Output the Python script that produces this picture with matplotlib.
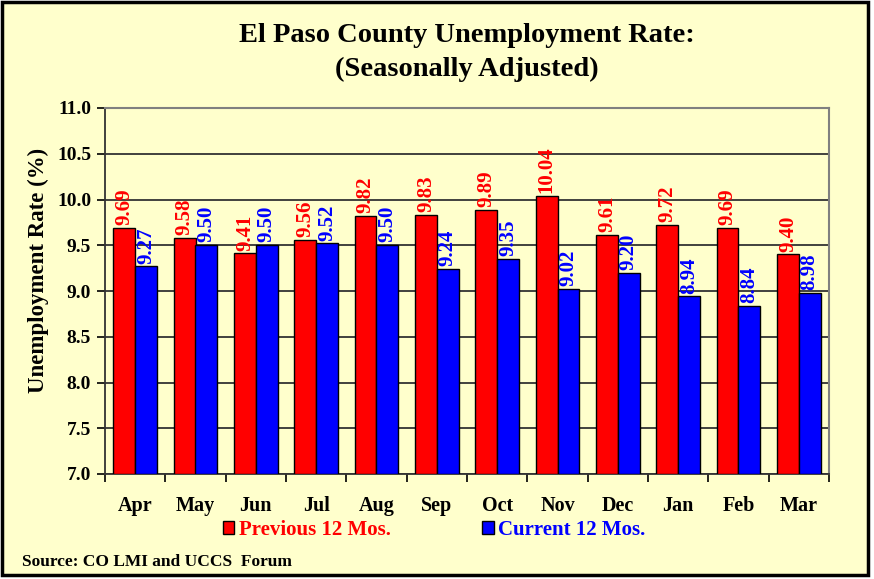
import matplotlib.pyplot as plt
import numpy as np
from matplotlib.patches import Rectangle

# Data
months = ['Apr', 'May', 'Jun', 'Jul', 'Aug', 'Sep', 'Oct', 'Nov', 'Dec', 'Jan', 'Feb', 'Mar']
previous = [9.69, 9.58, 9.41, 9.56, 9.82, 9.83, 9.89, 10.04, 9.61, 9.72, 9.69, 9.40]
current = [9.27, 9.50, 9.50, 9.52, 9.50, 9.24, 9.35, 9.02, 9.20, 8.94, 8.84, 8.98]
yticks = [7.0, 7.5, 8.0, 8.5, 9.0, 9.5, 10.0, 10.5, 11.0]

bg = '#FFFFCC'
red = '#FF0000'
blue = '#0000FF'

plt.rcParams['font.family'] = ['Liberation Serif', 'DejaVu Serif']
plt.rcParams['font.weight'] = 'bold'

fig = plt.figure(figsize=(8.74, 5.79), dpi=100)
fig.patch.set_facecolor('white')

# Outer framed background
fig.patches.append(Rectangle((2 / 874, 1 - 575 / 579), 866 / 874, 573 / 579,
                             transform=fig.transFigure, facecolor=bg,
                             edgecolor='black', linewidth=2.5, zorder=-10))

ax = fig.add_axes([105 / 874, 1 - 474 / 579, 724 / 874, 366 / 579])
ax.set_facecolor(bg)

x = np.arange(len(months))
w = 0.36
ax.bar(x - w / 2, [v - 7 for v in previous], w, bottom=7, color=red,
       edgecolor='black', linewidth=1, label='Previous 12 Mos.', zorder=3)
ax.bar(x + w / 2, [v - 7 for v in current], w, bottom=7, color=blue,
       edgecolor='black', linewidth=1, label='Current 12 Mos.', zorder=3)

for xi, v in zip(x, previous):
    ax.annotate(f'{v:.2f}', (xi - w / 2, v), xytext=(0, 2), textcoords='offset points',
                rotation=90, ha='center', va='bottom', color=red, fontsize=15,
                fontweight='bold')
for xi, v in zip(x, current):
    ax.annotate(f'{v:.2f}', (xi + w / 2, v), xytext=(0, 2), textcoords='offset points',
                rotation=90, ha='center', va='bottom', color=blue, fontsize=15,
                fontweight='bold')

ax.set_xlim(-0.5, len(months) - 0.5)
ax.set_ylim(7.0, 11.0)
ax.set_yticks(yticks)
ax.set_yticklabels([f'{t:.1f}' for t in yticks], fontsize=14, fontweight='bold')
ax.yaxis.grid(True, color='#333333', linewidth=1.3, zorder=1)
ax.set_axisbelow(True)

# month labels centred, ticks between groups
ax.set_xticks(x)
ax.set_xticklabels(months, fontsize=14.5, fontweight='bold')
ax.tick_params(axis='x', length=0, pad=16)
ax.set_xticks(np.arange(-0.5, len(months) + 0.5, 1), minor=True)
ax.tick_params(axis='x', which='minor', length=6, width=1.2, direction='out')
ax.tick_params(axis='y', length=6, width=1.2, direction='out', pad=4)

for s in ['left', 'bottom']:
    ax.spines[s].set_color('#333333')
    ax.spines[s].set_linewidth(1.3)
for s in ['top', 'right']:
    ax.spines[s].set_color('#808080')
    ax.spines[s].set_linewidth(1.5)

fig.text(38 / 874, 1 - 270 / 579, 'Unemployment Rate (%)', rotation=90, ha='center',
         va='center', fontsize=16.5, fontweight='bold')

fig.text(467 / 874, 1 - 36 / 579, 'El Paso County Unemployment Rate:', ha='center',
         va='center', fontsize=20.5, fontweight='bold')
fig.text(467 / 874, 1 - 69 / 579, '(Seasonally Adjusted)', ha='center',
         va='center', fontsize=20.5, fontweight='bold')

leg = ax.legend(loc='center', bbox_to_anchor=(434 / 874, 1 - 530 / 579),
                bbox_transform=fig.transFigure, ncol=2, frameon=False,
                fontsize=15, handlelength=0.55, handleheight=0.55, handletextpad=0.2,
                columnspacing=4.4, labelcolor=[red, blue], borderpad=0)

fig.text(22 / 874, 1 - 562 / 579, 'Source: CO LMI and UCCS  Forum', ha='left',
         va='center', fontsize=12.5, fontweight='bold')

fig.savefig('out.png', dpi=100, facecolor=fig.get_facecolor())
